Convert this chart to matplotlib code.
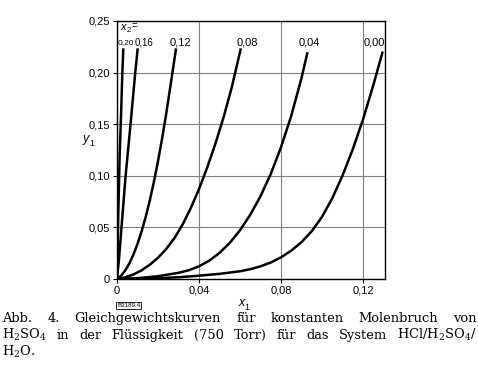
import matplotlib
matplotlib.use("Agg")
import matplotlib.pyplot as plt

plt.rcParams['font.family'] = ['Liberation Sans', 'DejaVu Sans']
plt.rcParams['mathtext.fontset'] = 'dejavuserif'

# curves for constant mole fraction x2 of H2SO4 in the liquid
x2_labels = ["0,20", "0,16", "0,12", "0,08", "0,04", "0,00"]

x1_020 = [0, 0.0006, 0.0013, 0.0020, 0.0026, 0.0031]
y1_020 = [0, 0.060, 0.120, 0.160, 0.200, 0.2235]

x1_016 = [0, 0.0010, 0.0022, 0.0042, 0.0066, 0.0089, 0.0101]
y1_016 = [0, 0.020, 0.050, 0.100, 0.150, 0.200, 0.2235]

x1_012 = [0, 0.002, 0.004, 0.006, 0.008, 0.010, 0.012, 0.014, 0.016, 0.018,
          0.020, 0.022, 0.024, 0.026, 0.0288]
y1_012 = [0, 0.0032, 0.0082, 0.0150, 0.0236, 0.0340, 0.0462, 0.0602, 0.0762, 0.0942,
          0.1142, 0.1362, 0.1602, 0.1862, 0.2235]

x1_008 = [0, 0.004, 0.008, 0.012, 0.016, 0.020, 0.024, 0.028, 0.032, 0.036,
          0.040, 0.044, 0.048, 0.052, 0.056, 0.0604]
y1_008 = [0, 0.0016, 0.0044, 0.0084, 0.0138, 0.0206, 0.0290, 0.0396, 0.0528, 0.0688,
          0.0872, 0.1080, 0.1312, 0.1568, 0.1860, 0.2235]

x1_004 = [0, 0.010, 0.020, 0.030, 0.035, 0.040, 0.045, 0.050, 0.055, 0.060, 0.065,
          0.070, 0.075, 0.080, 0.085, 0.090, 0.0929]
y1_004 = [0, 0.0008, 0.0027, 0.0060, 0.0085, 0.0123, 0.0178, 0.0253, 0.0350, 0.0473, 0.0623,
          0.0803, 0.1018, 0.1278, 0.1583, 0.1948, 0.2197]

x1_000 = [0, 0.010, 0.020, 0.030, 0.040, 0.050, 0.060, 0.065, 0.070, 0.075, 0.080,
          0.085, 0.090, 0.095, 0.100, 0.105, 0.110, 0.115, 0.120, 0.125, 0.1296]
y1_000 = [0, 0.0002, 0.0008, 0.0017, 0.0032, 0.0050, 0.0075, 0.0095, 0.0123, 0.0160, 0.0210,
          0.0275, 0.0358, 0.0463, 0.0603, 0.0783, 0.1003, 0.1258, 0.1548, 0.1878, 0.2205]

curves = [(x1_020, y1_020), (x1_016, y1_016), (x1_012, y1_012),
          (x1_008, y1_008), (x1_004, y1_004), (x1_000, y1_000)]

x_ticks = [0, 0.04, 0.08, 0.12]
x_tick_labels = ["0", "0,04", "0,08", "0,12"]
y_ticks = [0, 0.05, 0.10, 0.15, 0.20, 0.25]
y_tick_labels = ["0", "0,05", "0,10", "0,15", "0,20", "0,25"]

caption_1 = "Abb. 4. Gleichgewichtskurven für konstanten Molenbruch von"
caption_2 = "H$_2$SO$_4$ in der Flüssigkeit (750 Torr) für das System HCl/H$_2$SO$_4$/"
caption_3 = "H$_2$O."

W, H = 478, 374
fig = plt.figure(figsize=(W / 100, H / 100), dpi=100)
ax = fig.add_axes([117 / W, 95 / H, 268 / W, 258 / H])

for xs, ys in curves:
    ax.plot(xs, ys, color="black", lw=1.8, solid_capstyle="butt", solid_joinstyle="round")

# curve labels above the curve ends
label_x = [0.0044, 0.0133, 0.0310, 0.0637, 0.0939, 0.1254]
label_size = [6, 7, 8, 8, 8, 8]
for lx, txt, fs in zip(label_x, x2_labels, label_size):
    ax.text(lx, 0.2287, txt, ha="center", va="center", fontsize=fs)
ax.text(0.0019, 0.2445, "x", style="italic", ha="left", va="center", fontsize=8)
ax.text(0.0046, 0.2410, "2", ha="left", va="center", fontsize=5.5)
ax.text(0.0070, 0.2448, "=", ha="left", va="center", fontsize=7)

ax.set_xlim(0, 0.1307)
ax.set_ylim(0, 0.25)
ax.set_xticks(x_ticks, x_tick_labels)
ax.set_yticks(y_ticks, y_tick_labels)
ax.tick_params(labelsize=8, length=3, width=0.8, pad=2)
ax.grid(True, color="#808080", lw=0.8)
ax.set_axisbelow(True)
for sp in ax.spines.values():
    sp.set_color("black")
    sp.set_linewidth(1.0)

# axis labels
fig.text(83 / W, 1 - 139 / H, "y", style="italic", fontsize=9, ha="left", va="center")
fig.text(89 / W, 1 - 143 / H, "1", fontsize=6.5, ha="left", va="center")
fig.text(238 / W, 1 - 303 / H, "x", style="italic", fontsize=9, ha="left", va="center")
fig.text(244 / W, 1 - 307 / H, "1", fontsize=6.5, ha="left", va="center")

fig.text(117 / W, 1 - 305.5 / H, "B3189.4", fontsize=4.5, ha="left", va="center",
         bbox=dict(boxstyle="square,pad=0.15", fc="white", ec="black", lw=0.6))

# caption, justified like the printed page
renderer = fig.canvas.get_renderer()
serif = dict(family="DejaVu Serif", fontsize=9.4, va="baseline")


def justified(line, y_px, left=2, right=477):
    words = line.split(" ")
    arts = [fig.text(0, 1 - y_px / H, w, **serif) for w in words]
    widths = [a.get_window_extent(renderer).width for a in arts]
    gap = (right - left - sum(widths)) / (len(words) - 1)
    x = left
    for a, w in zip(arts, widths):
        a.set_x(x / W)
        x += w + gap


justified(caption_1, 322)
justified(caption_2, 339)
fig.text(2 / W, 1 - 356 / H, caption_3, **serif)

fig.savefig("out.png", dpi=100)
